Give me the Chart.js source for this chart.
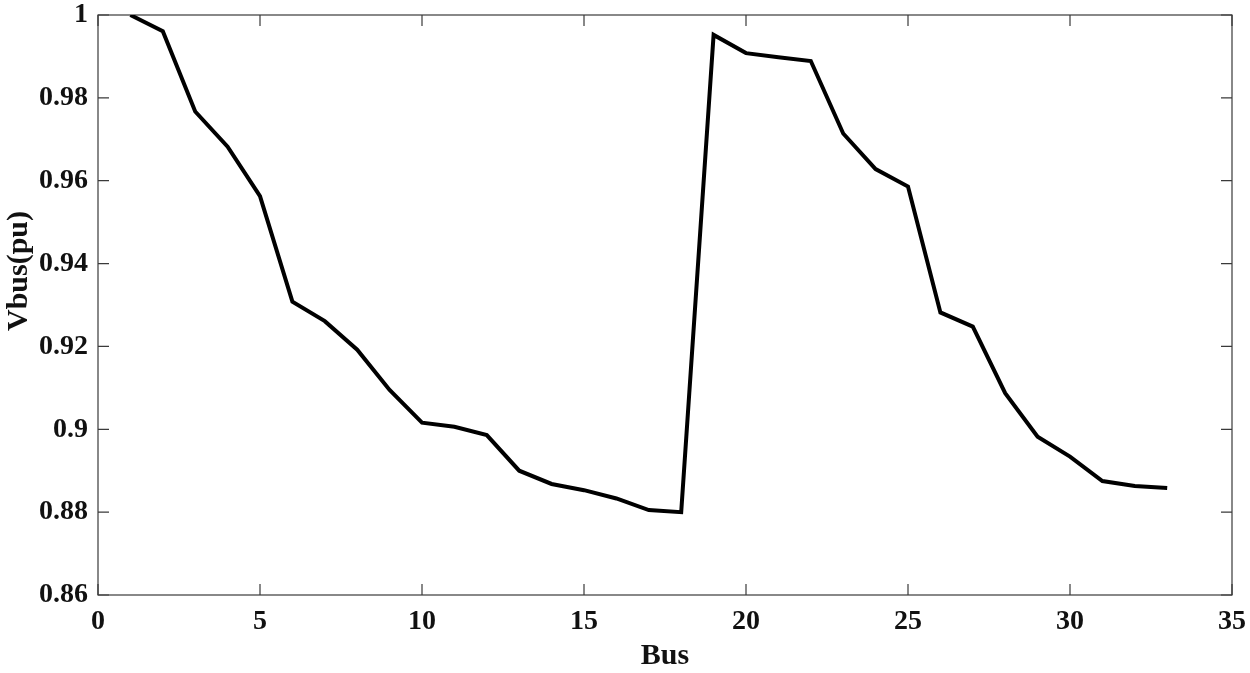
<!DOCTYPE html>
<html>
<head>
<meta charset="utf-8">
<script src="https://cdn.jsdelivr.net/npm/chart.js@4/dist/chart.umd.min.js"></script>
<style>
    html, body { margin: 0; padding: 0; background: #fff; }
</style>
</head>
<body>
<canvas id="chartVbus" width="1250" height="673"></canvas>
<script>
// bus voltage profile
var buses = [1, 2, 3, 4, 5, 6, 7, 8, 9, 10, 11, 12, 13, 14, 15, 16, 17,
    18, 19, 20, 21, 22, 23, 24, 25, 26, 27, 28, 29, 30, 31, 32, 33];
var vbus = [1.0000, 0.9961, 0.9767, 0.9682, 0.9563, 0.9308, 0.9261, 0.9192,
    0.9095, 0.9016, 0.9006, 0.8986, 0.8900, 0.8868, 0.8853, 0.8833, 0.8805,
    0.8800, 0.9952, 0.9908, 0.9898, 0.9889, 0.9714, 0.9628, 0.9586, 0.9282,
    0.9248, 0.9087, 0.8982, 0.8934, 0.8875, 0.8863, 0.8858];
var xTicks = [0, 5, 10, 15, 20, 25, 30, 35];
var yTicks = [0.86, 0.88, 0.9, 0.92, 0.94, 0.96, 0.98, 1];

var labelFont = { family: '"Liberation Serif", "Times New Roman", serif', size: 28, weight: 'bold' };
var titleFont = { family: '"Liberation Serif", "Times New Roman", serif', size: 30, weight: 'bold', lineHeight: 1.1 };

// matlab style box with inward ticks + rotated y title
var axesBox = {
    id: 'axesBox',
    beforeDatasetsDraw: function(chart) {
        var ctx = chart.ctx;
        var a = chart.chartArea;
        var sx = chart.scales.x;
        var sy = chart.scales.y;
        var len = 11;

        ctx.save();
        ctx.strokeStyle = '#3a3a3a';
        ctx.lineWidth = 1.2;
        ctx.strokeRect(a.left, a.top, a.right - a.left, a.bottom - a.top);
        ctx.beginPath();
        sx.ticks.forEach(function(t) {
            var px = sx.getPixelForValue(t.value);
            ctx.moveTo(px, a.bottom); ctx.lineTo(px, a.bottom - len);
            ctx.moveTo(px, a.top); ctx.lineTo(px, a.top + len);
        });
        sy.ticks.forEach(function(t) {
            var py = sy.getPixelForValue(t.value);
            ctx.moveTo(a.left, py); ctx.lineTo(a.left + len, py);
            ctx.moveTo(a.right, py); ctx.lineTo(a.right - len, py);
        });
        ctx.stroke();

        ctx.translate(19, (a.top + a.bottom) / 2 - 34);
        ctx.rotate(-Math.PI / 2);
        ctx.font = 'bold 30px "Liberation Serif", "Times New Roman", serif';
        ctx.fillStyle = '#111';
        ctx.textAlign = 'center';
        ctx.textBaseline = 'middle';
        ctx.fillText('Vbus(pu)', 0, 0);
        ctx.restore();
    }
};

var points = buses.map(function(b, i) { return { x: b, y: vbus[i] }; });

var grafico = new Chart(document.getElementById('chartVbus'), {
    type: 'line',
    data: {
        datasets: [{
            label: 'Vbus',
            data: points,
            borderColor: '#000',
            borderWidth: 4,
            pointRadius: 0,
            tension: 0,
            fill: false
        }]
    },
    options: {
        responsive: false,
        animation: false,
        devicePixelRatio: 1,
        layout: { padding: { top: 15, right: 18, left: 0, bottom: 0 } },
        plugins: { legend: { display: false }, tooltip: { enabled: false } },
        scales: {
            x: {
                type: 'linear',
                min: 0,
                max: 35,
                afterBuildTicks: function(s) { s.ticks = xTicks.map(function(v) { return { value: v }; }); },
                afterFit: function(s) { s.height = 78; s.paddingLeft = 0; s.paddingRight = 0; },
                grid: { display: false, drawTicks: false },
                border: { display: false },
                ticks: { padding: 10, font: labelFont, color: '#111', maxRotation: 0, autoSkip: false },
                title: { display: true, text: 'Bus', font: titleFont, color: '#111', padding: { top: 0, bottom: 0 } }
            },
            y: {
                min: 0.86,
                max: 1,
                afterBuildTicks: function(s) { s.ticks = yTicks.map(function(v) { return { value: v }; }); },
                afterFit: function(s) { s.width = 98; s.paddingTop = 0; s.paddingBottom = 0; },
                grid: { display: false, drawTicks: false },
                border: { display: false },
                ticks: {
                    padding: 10, font: labelFont, color: '#111', autoSkip: false,
                    callback: function(v) { return String(+v.toFixed(2)); }
                }
            }
        }
    },
    plugins: [axesBox]
});
</script>
</body>
</html>
